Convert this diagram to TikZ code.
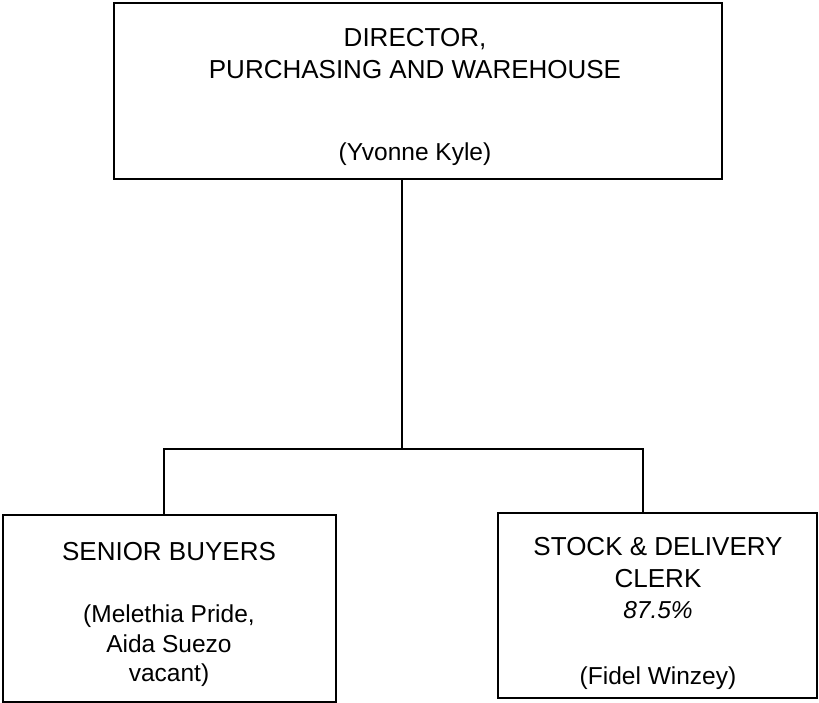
\documentclass[tikz,border=0pt]{standalone}
\usepackage{fontspec}
\setmainfont{Liberation Sans}
\begin{document}
\begin{tikzpicture}[x=1pt,y=-1pt,
  box/.style={draw=black,line width=2.6pt,rectangle,inner sep=0pt,fill=none},
  txt/.style={anchor=base,inner sep=0pt,font=\fontsize{26}{31}\selectfont},
  ntxt/.style={anchor=base,inner sep=0pt,font=\fontsize{24.5}{30}\selectfont},
  conn/.style={draw=black,line width=2.2pt}]
\useasboundingbox (0,0) rectangle (819,703);
% boxes
\node[box,minimum width=608pt,minimum height=176pt] (top) at (418,91) {};
\node[box,minimum width=333pt,minimum height=187pt] (lb) at (169.5,608.5) {};
\node[box,minimum width=319pt,minimum height=185pt] (rb) at (657.5,605.5) {};
% texts
\node[txt] (t1) at (415,47) {DIRECTOR,};
\node[txt] (t2) at (415,79) {PURCHASING AND WAREHOUSE};
\node[ntxt] (t3) at (415,161) {(Yvonne Kyle)};
\node[txt] (l1) at (169,560) {SENIOR BUYERS};
\node[ntxt] (l2) at (169,622) {(Melethia Pride,};
\node[ntxt] (l3) at (169,652) {Aida Suezo};
\node[ntxt] (l4) at (169,681) {vacant)};
\node[txt] (r1) at (658,555) {STOCK \& DELIVERY};
\node[txt] (r2) at (658,587) {CLERK};
\node[ntxt] (r3) at (658,618) {\itshape 87.5\%};
\node[ntxt] (r4) at (658,684) {(Fidel Winzey)};
% connectors
\coordinate (j) at (402,449);
\coordinate (jl) at (164,449);
\coordinate (jr) at (643,449);
\draw[conn] (top.south -| j) -- (j);
\draw[conn,line cap=rect] (lb.north -| jl) -- (jl) -- (jr) -- (rb.north -| jr);
\end{tikzpicture}
\end{document}
